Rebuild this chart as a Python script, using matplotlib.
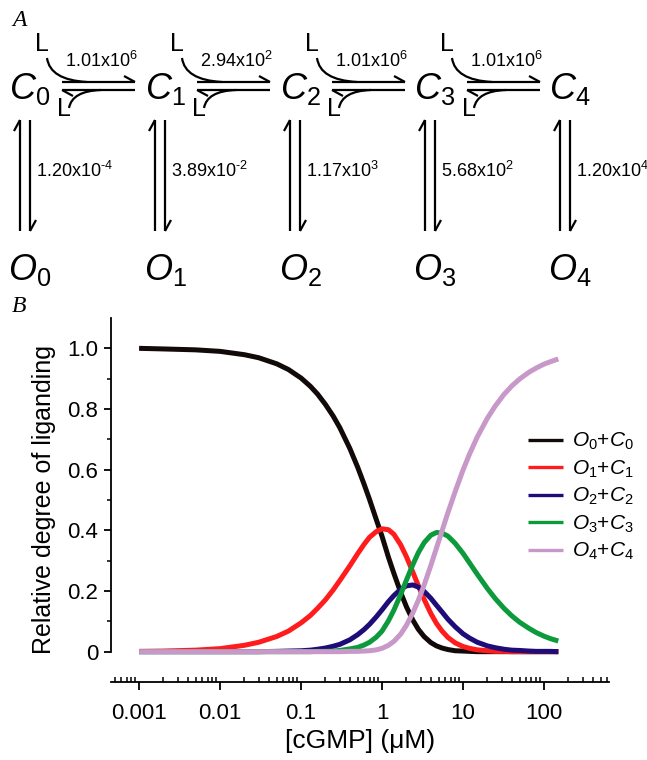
import matplotlib
matplotlib.use('Agg')
import matplotlib.pyplot as plt
from matplotlib.path import Path
from matplotlib.patches import PathPatch
from matplotlib.ticker import FixedLocator, LogLocator, NullFormatter

plt.rcParams['font.family'] = ['Liberation Sans', 'DejaVu Sans']
plt.rcParams['mathtext.fontset'] = 'custom'
plt.rcParams['mathtext.rm'] = 'Liberation Sans'
plt.rcParams['mathtext.it'] = 'Liberation Sans:italic'
plt.rcParams['mathtext.default'] = 'regular'

# scheme A: rate constants
bind_mant = ['1.01', '2.94', '1.01', '1.01']
bind_exp = ['6', '2', '6', '6']
open_mant = ['1.20', '3.89', '1.17', '5.68', '1.20']
open_exp = ['\u2010' + '4', '\u2010' + '2', '3', '2', '4']

# panel B: fraction of channels per liganding state vs [cGMP] (uM)
cgmp = [0.001, 0.002, 0.005, 0.01, 0.02, 0.03, 0.05, 0.07, 0.1, 0.13, 0.16, 0.2, 0.25, 0.3,
        0.4, 0.5, 0.6, 0.7, 0.85, 1.0, 1.2, 1.4, 1.7, 2.0, 2.4, 2.8, 3.3, 4.0, 4.7, 5.5,
        6.5, 8.0, 10, 12, 15, 20, 25, 32, 40, 50, 65, 80, 100, 120, 150]
oc0 = [1.000, 0.998, 0.995, 0.990, 0.979, 0.969, 0.949, 0.930, 0.902, 0.875, 0.849, 0.815,
       0.776, 0.739, 0.670, 0.608, 0.552, 0.502, 0.435, 0.380, 0.311, 0.258, 0.195, 0.148,
       0.104, 0.074, 0.050, 0.030, 0.019, 0.012, 0.007, 0.003, 0.002, 0.001, 0, 0, 0, 0,
       0, 0, 0, 0, 0, 0, 0]
oc1 = [0.001, 0.002, 0.005, 0.010, 0.021, 0.031, 0.050, 0.068, 0.095, 0.119, 0.143, 0.171,
       0.204, 0.234, 0.283, 0.323, 0.354, 0.377, 0.396, 0.405, 0.402, 0.387, 0.352, 0.313,
       0.262, 0.218, 0.173, 0.126, 0.093, 0.068, 0.047, 0.029, 0.017, 0.011, 0.006, 0.003,
       0.001, 0.001, 0, 0, 0, 0, 0, 0, 0]
oc2 = [0, 0, 0, 0, 0, 0, 0.001, 0.002, 0.003, 0.005, 0.008, 0.012, 0.018, 0.024, 0.039,
       0.056, 0.073, 0.090, 0.115, 0.138, 0.165, 0.185, 0.206, 0.217, 0.220, 0.213, 0.199,
       0.176, 0.153, 0.131, 0.107, 0.082, 0.059, 0.045, 0.031, 0.019, 0.013, 0.008, 0.005,
       0.004, 0.002, 0.001, 0.001, 0.001, 0]
oc3 = [0, 0, 0, 0, 0, 0, 0, 0, 0, 0, 0.001, 0.001, 0.002, 0.004, 0.009, 0.014, 0.022,
       0.031, 0.048, 0.068, 0.102, 0.137, 0.189, 0.236, 0.287, 0.326, 0.359, 0.384, 0.393,
       0.391, 0.381, 0.357, 0.324, 0.293, 0.255, 0.208, 0.175, 0.143, 0.118, 0.097, 0.077,
       0.063, 0.051, 0.043, 0.035]
oc4 = [0, 0, 0, 0, 0, 0, 0, 0, 0, 0, 0, 0, 0, 0, 0.001, 0.001, 0.002, 0.003, 0.006, 0.011,
       0.021, 0.034, 0.058, 0.087, 0.128, 0.169, 0.219, 0.284, 0.342, 0.398, 0.458, 0.528,
       0.599, 0.651, 0.708, 0.770, 0.810, 0.848, 0.876, 0.899, 0.921, 0.935, 0.948, 0.956,
       0.965]
series = [oc0, oc1, oc2, oc3, oc4]
labels = [r'$\mathit{O}_{%d}$+$\mathit{C}_{%d}$' % (i, i) for i in range(5)]
colors = ['#120909', '#ff1c1c', '#1e0c78', '#0c9a3c', '#c898c8']

fig = plt.figure(figsize=(6.47, 7.6), dpi=100)

# ---- panel A, drawn in pixel coordinates
ax0 = fig.add_axes([0, 0, 1, 1])
ax0.set_xlim(0, 647)
ax0.set_ylim(760, 0)
ax0.axis('off')

kw = dict(color='k', lw=1.6, solid_capstyle='butt')
cx = [25, 160, 295, 430, 565]
for i in range(5):
    x = cx[i]
    ax0.text(x + 5, 89, r'$\mathit{C}_{%d}$' % i, fontsize=26, ha='center', va='center')
    ax0.text(x + 5, 270, r'$\mathit{O}_{%d}$' % i, fontsize=26, ha='center', va='center')
    ax0.plot([x - 5, x - 5], [120, 231], **kw)
    ax0.plot([x - 5, x - 11], [120, 131], **kw)
    ax0.plot([x + 5, x + 5], [120, 231], **kw)
    ax0.plot([x + 5, x + 11], [231, 220], **kw)
    ax0.text(x + 11, 171, '%sx10$^{%s}$' % (open_mant[i], open_exp[i]), fontsize=13,
             ha='left', va='center')

for i in range(4):
    x = cx[i]
    x0, x1 = x + 37, x + 110
    ax0.plot([x0, x1], [82, 82], **kw)
    ax0.plot([x1, x1 - 11], [82, 76], **kw)
    ax0.plot([x0, x1], [90, 90], **kw)
    ax0.plot([x0, x0 + 11], [90, 96], **kw)
    ax0.text(x + 17, 44, 'L', fontsize=18, ha='center', va='center')
    ax0.text(x + 39, 109, 'L', fontsize=18, ha='center', va='center')
    p1 = Path([(x + 22, 58), (x + 25, 80), (x + 62, 82)], [Path.MOVETO, Path.CURVE3, Path.CURVE3])
    p2 = Path([(x + 44, 108), (x + 47, 91), (x + 76, 90)], [Path.MOVETO, Path.CURVE3, Path.CURVE3])
    ax0.add_patch(PathPatch(p1, fill=False, lw=1.6, color='k'))
    ax0.add_patch(PathPatch(p2, fill=False, lw=1.6, color='k'))
    ax0.text(x + 76, 61, '%sx10$^{%s}$' % (bind_mant[i], bind_exp[i]), fontsize=13,
             ha='center', va='center')

ax0.text(12, 21, 'A', fontsize=17, family='Liberation Serif', style='italic', va='center')
ax0.text(12, 307, 'B', fontsize=17, family='Liberation Serif', style='italic', va='center')

# ---- panel B
ax = fig.add_axes([111 / 647, 78 / 760, 498 / 647, 364 / 760])
ax.patch.set_alpha(0)
for ys, lab, c in zip(series, labels, colors):
    ax.plot(cgmp, ys, color=c, lw=3.6, label=lab, solid_capstyle='butt')

ax.set_xscale('log')
ax.set_xlim(4.5e-4, 634)
ax.set_ylim(-0.1, 1.1)
ax.spines['top'].set_visible(False)
ax.spines['right'].set_visible(False)
ax.spines['left'].set_bounds(0, 1.1)
ax.spines['left'].set_linewidth(1.3)
ax.spines['bottom'].set_linewidth(1.3)

ax.set_yticks([0, 0.2, 0.4, 0.6, 0.8, 1.0])
ax.set_yticklabels(['0', '0.2', '0.4', '0.6', '0.8', '1.0'])
ax.set_yticks([0.1, 0.3, 0.5, 0.7, 0.9], minor=True)
ax.xaxis.set_major_locator(FixedLocator([1e-3, 1e-2, 1e-1, 1, 10, 100]))
ax.set_xticklabels(['0.001', '0.01', '0.1', '1', '10', '100'])
ax.xaxis.set_minor_locator(LogLocator(base=10, subs=range(2, 10), numticks=50))
ax.xaxis.set_minor_formatter(NullFormatter())
ax.tick_params(axis='y', which='major', direction='out', length=5, width=1.3, labelsize=16, pad=4)
ax.tick_params(axis='y', which='minor', direction='out', length=3, width=1.1)
ax.tick_params(axis='x', which='major', direction='out', length=6, width=1.3, labelsize=16, pad=9)
ax.tick_params(axis='x', which='minor', direction='in', length=3.5, width=1.1)

ax.set_ylabel('Relative degree of liganding', fontsize=18, labelpad=8)
ax.set_xlabel('[cGMP] (\u03bcM)', fontsize=19, labelpad=4)

ax.legend(loc='upper left', bbox_to_anchor=(528 / 647, 1 - 431 / 760),
          bbox_transform=fig.transFigure, frameon=False, fontsize=15,
          handlelength=1.7, handletextpad=0.4, labelspacing=0.3,
          borderpad=0, borderaxespad=0)
for h in ax.get_legend().get_lines():
    h.set_linewidth(2.4)

fig.savefig('out.png', dpi=100)
